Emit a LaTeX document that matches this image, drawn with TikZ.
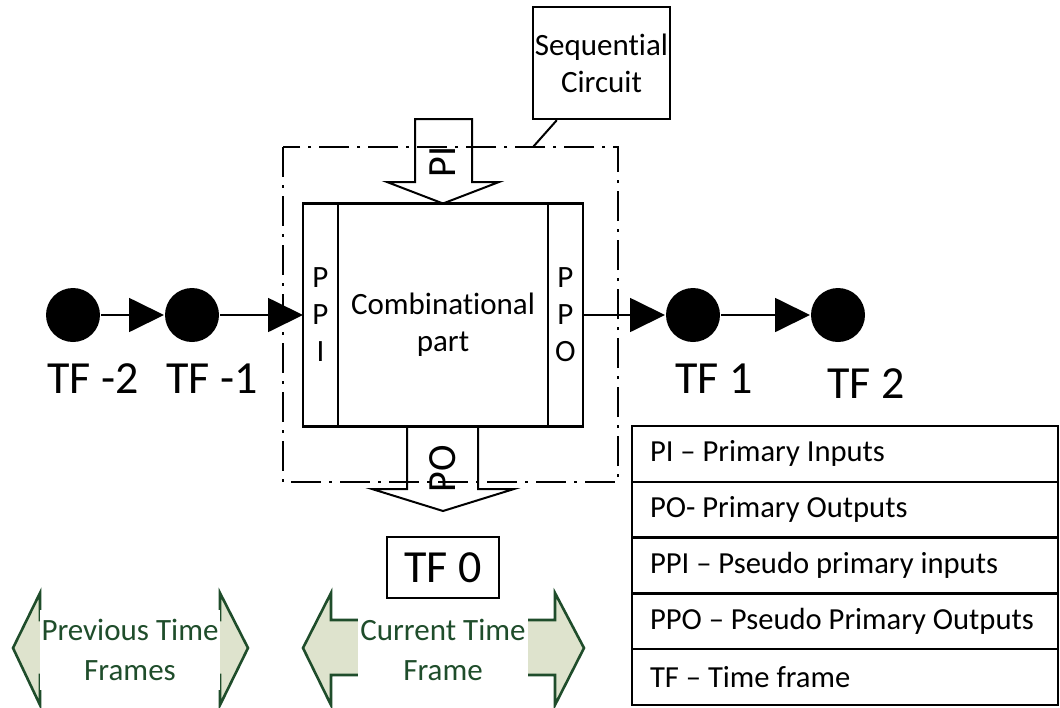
\documentclass[tikz,border=0pt]{standalone}
\usepackage{fontspec}
\setmainfont{Carlito}[Ligatures={TeX,NoCommon}]
\usetikzlibrary{arrows.meta,positioning}
\definecolor{framegreen}{RGB}{31,77,43}
\definecolor{framefill}{RGB}{222,227,205}

\begin{document}
\begin{tikzpicture}[x=0.5pt, y=-0.5pt, line width=1pt,
  tfdot/.style={circle, fill=black, minimum size=27pt, inner sep=0pt},
  tflabel/.style={font=\fontsize{23pt}{27pt}\selectfont},
  smalltext/.style={font=\fontsize{15.5pt}{18.5pt}\selectfont, align=center},
  bartext/.style={font=\fontsize{20pt}{24pt}\selectfont, rotate=90},
  link/.style={-{Triangle[length=17.5pt,width=17pt]}, line width=0.9pt},
  partbox/.style={draw, line width=1.4pt, minimum height=111.5pt, inner sep=0pt, outer sep=0pt},
  legendrow/.style={draw, line width=1.2pt, outer sep=0pt, minimum height=27.9pt,
    text width=195pt, inner xsep=9pt, inner ysep=0pt, align=flush left,
    font=\fontsize{15.3pt}{18.5pt}\selectfont},
  frameshape/.style={draw=framegreen, fill=framefill, line width=1.3pt, line join=miter},
  framelabel/.style={fill=white, text=framegreen, inner sep=0pt, minimum height=40pt,
    align=center, font=\fontsize{15.5pt}{20pt}\selectfont},
  bigarrow/.style={line width=1pt, line join=miter}
]

\useasboundingbox (0,0) rectangle (1060,707);

% combinational block with PPI / PPO
\node[partbox, minimum width=140pt] (comb) at (443,315) {};
\node[partbox, smalltext, minimum width=17.5pt, anchor=west] (ppi) at (comb.west) {P\\P\\I};
\node[partbox, smalltext, minimum width=17.5pt, anchor=east] (ppo) at (comb.east) {P\\P\\O};
\node[smalltext] (combtext) at (443,325) {Combinational\\part};

% time frames
\node[tfdot] (tfm2) at (73,315) {};
\node[tfdot] (tfm1) at (192,315) {};
\node[tfdot] (tfp1) at (693,315) {};
\node[tfdot] (tfp2) at (838,315) {};

\draw[link] (tfm2) -- (tfm1);
\draw[link] (tfm1) -- (ppi.west);
\draw[link] (ppo.east) -- (tfp1);
\draw[link] (tfp1) -- (tfp2);

\node[tflabel] (lblm2) at (93,379) {TF -2};
\node[tflabel] (lblm1) at (212,379) {TF -1};
\node[tflabel] (lblp1) at (714,379) {TF 1};
\node[tflabel] (lblp2) at (866,384) {TF 2};

% sequential circuit callout
\node[draw, line width=1.2pt, smalltext, minimum width=68.5pt, minimum height=56pt, inner sep=0pt] (seq) at (601.5,63) {Sequential\\Circuit};
\coordinate (seqtouch) at (533,147);
\draw[line width=1pt] ([xshift=12.5pt]seq.south west) -- (seqtouch);

% PI and PO arrows
\draw[bigarrow] (415,119) -- (472,119) -- (472,182) -- (499,182) -- (comb.north) -- (387,182) -- (415,182) -- cycle;
\node[bartext] (pilbl) at (443,162) {PI};

\draw[bigarrow] (407,426) -- (407,489) -- (372,489) -- (443,511) -- (514,489) -- (478,489) -- (478,426);
\node[bartext] (polbl) at (443,469) {PO};

% sequential circuit border
\draw[line width=1.4pt, dash pattern=on 15pt off 4pt on 1.5pt off 4pt] (283,147) rectangle (618,482);

\node[draw, line width=1.2pt, tflabel, minimum width=56pt, minimum height=30.5pt, inner sep=0pt] (tfzero) at (443,567.5) {TF 0};

% legend
\node[legendrow, anchor=north west] (leg1) at (632,426) {PI -- Primary Inputs};
\node[legendrow, below=0pt of leg1] (leg2) {PO- Primary Outputs};
\node[legendrow, below=0pt of leg2] (leg3) {PPI -- Pseudo primary inputs};
\node[legendrow, below=0pt of leg3] (leg4) {PPO -- Pseudo Primary Outputs};
\node[legendrow, below=0pt of leg4] (leg5) {TF -- Time frame};

% previous / current time frames
\draw[frameshape] (13,648) -- (40,593) -- (40,620) -- (220,620) -- (220,593) -- (248,648)
  -- (220,705) -- (220,675) -- (40,675) -- (40,705) -- cycle;
\node[framelabel, minimum width=90pt] (prevlbl) at (130,650) {Previous Time\\Frames};

\draw[frameshape] (303,648) -- (331,593) -- (331,620) -- (555,620) -- (555,593) -- (584,648)
  -- (555,705) -- (555,675) -- (331,675) -- (331,705) -- cycle;
\node[framelabel, minimum width=85pt] (curlbl) at (443,650) {Current Time\\Frame};

\end{tikzpicture}
\end{document}
